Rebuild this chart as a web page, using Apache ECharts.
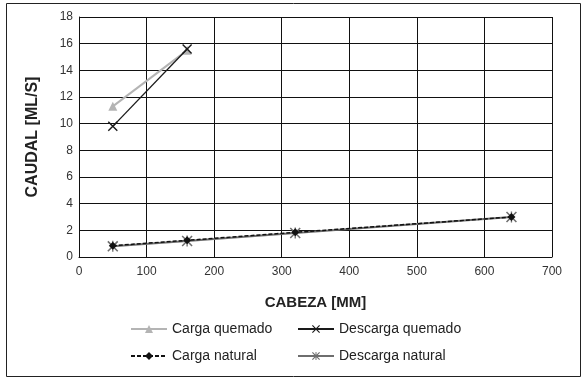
<!DOCTYPE html>
<html>
<head>
<meta charset="utf-8">
<script src="https://cdn.jsdelivr.net/npm/echarts@6/dist/echarts.min.js"></script>
<style>
  html, body { margin: 0; padding: 0; background: #fff; }
  #chart { width: 586px; height: 383px; }
</style>
</head>
<body>
<div id="chart"></div>
<script>
// datos
const cargaQuemado = [[50, 11.3], [160, 15.5]]
const descargaQuemado = [[50, 9.8], [160, 15.6]]
const cargaNatural = [[50, 0.85], [160, 1.25], [320, 1.85], [640, 3.0]]
const descargaNatural = [[50, 0.8], [160, 1.2], [320, 1.8], [640, 3.0]]
const seriesNames = ['Carga quemado', 'Descarga quemado', 'Carga natural', 'Descarga natural']

const font = '"Liberation Sans Narrow", "Liberation Sans", Arial, sans-serif'
// marcadores dibujados como trazos
const crossPath = 'path://M0,1 L1,0 L10,9 L9,10 Z M9,0 L10,1 L1,10 L0,9 Z'
const starPath = 'path://M0,1 L1,0 L10,9 L9,10 Z M9,0 L10,1 L1,10 L0,9 Z M4.4,0 L5.6,0 L5.6,10 L4.4,10 Z'

let chart = echarts.init(document.getElementById('chart'))

function legendAt(name, left, top) {
  return {
    data: [name],
    left: left,
    top: top,
    itemWidth: 36,
    itemHeight: 10,
    itemGap: 0,
    textStyle: { fontFamily: font, fontSize: 14, color: '#222' }
  }
}

let option = {
  animation: false,
  graphic: [{
    type: 'rect',
    shape: { x: 6.5, y: 3.5, width: 574, height: 373 },
    style: { fill: 'none', stroke: '#222', lineWidth: 1 }
  }],
  grid: { left: 79, right: 34, top: 17, bottom: 126 },
  legend: [
    legendAt(seriesNames[0], 125, 317),
    legendAt(seriesNames[1], 292, 317),
    legendAt(seriesNames[2], 125, 344),
    legendAt(seriesNames[3], 292, 344)
  ],
  xAxis: {
    type: 'value',
    min: 0,
    max: 700,
    interval: 100,
    name: 'CABEZA [MM]',
    nameLocation: 'middle',
    nameGap: 38,
    nameTextStyle: { fontFamily: font, fontSize: 15, fontWeight: 'bold', color: '#222' },
    axisLine: { show: true, lineStyle: { color: '#111', width: 1 } },
    axisTick: { show: false },
    axisLabel: { fontFamily: font, fontSize: 12, color: '#333', margin: 9 },
    splitLine: { show: true, lineStyle: { color: '#111', width: 1 } }
  },
  yAxis: {
    type: 'value',
    min: 0,
    max: 18,
    interval: 2,
    name: 'CAUDAL [ML/S]',
    nameLocation: 'middle',
    nameGap: 38,
    nameTextStyle: { fontFamily: font, fontSize: 16, fontWeight: 'bold', color: '#222' },
    axisLine: { show: true, lineStyle: { color: '#111', width: 1 } },
    axisTick: { show: false },
    axisLabel: { fontFamily: font, fontSize: 12, color: '#333', margin: 6 },
    splitLine: { show: true, lineStyle: { color: '#111', width: 1 } }
  },
  series: [
    {
      name: seriesNames[0],
      type: 'line',
      data: cargaQuemado,
      symbol: 'triangle',
      symbolSize: 9,
      lineStyle: { color: '#b4b4b4', width: 2 },
      itemStyle: { color: '#b4b4b4' },
      z: 2
    },
    {
      name: seriesNames[1],
      type: 'line',
      data: descargaQuemado,
      symbol: crossPath,
      symbolSize: 10,
      lineStyle: { color: '#1a1a1a', width: 1.3 },
      itemStyle: { color: '#1a1a1a' },
      z: 3
    },
    {
      name: seriesNames[2],
      type: 'line',
      data: cargaNatural,
      symbol: 'diamond',
      symbolSize: 8,
      lineStyle: { color: '#111', width: 1.5, type: [4, 2] },
      itemStyle: { color: '#111' },
      z: 3
    },
    {
      name: seriesNames[3],
      type: 'line',
      data: descargaNatural,
      symbol: starPath,
      symbolSize: 11,
      lineStyle: { color: '#6e6e6e', width: 2 },
      itemStyle: { color: '#6e6e6e' },
      z: 2
    }
  ]
}

chart.setOption(option)
</script>
</body>
</html>
